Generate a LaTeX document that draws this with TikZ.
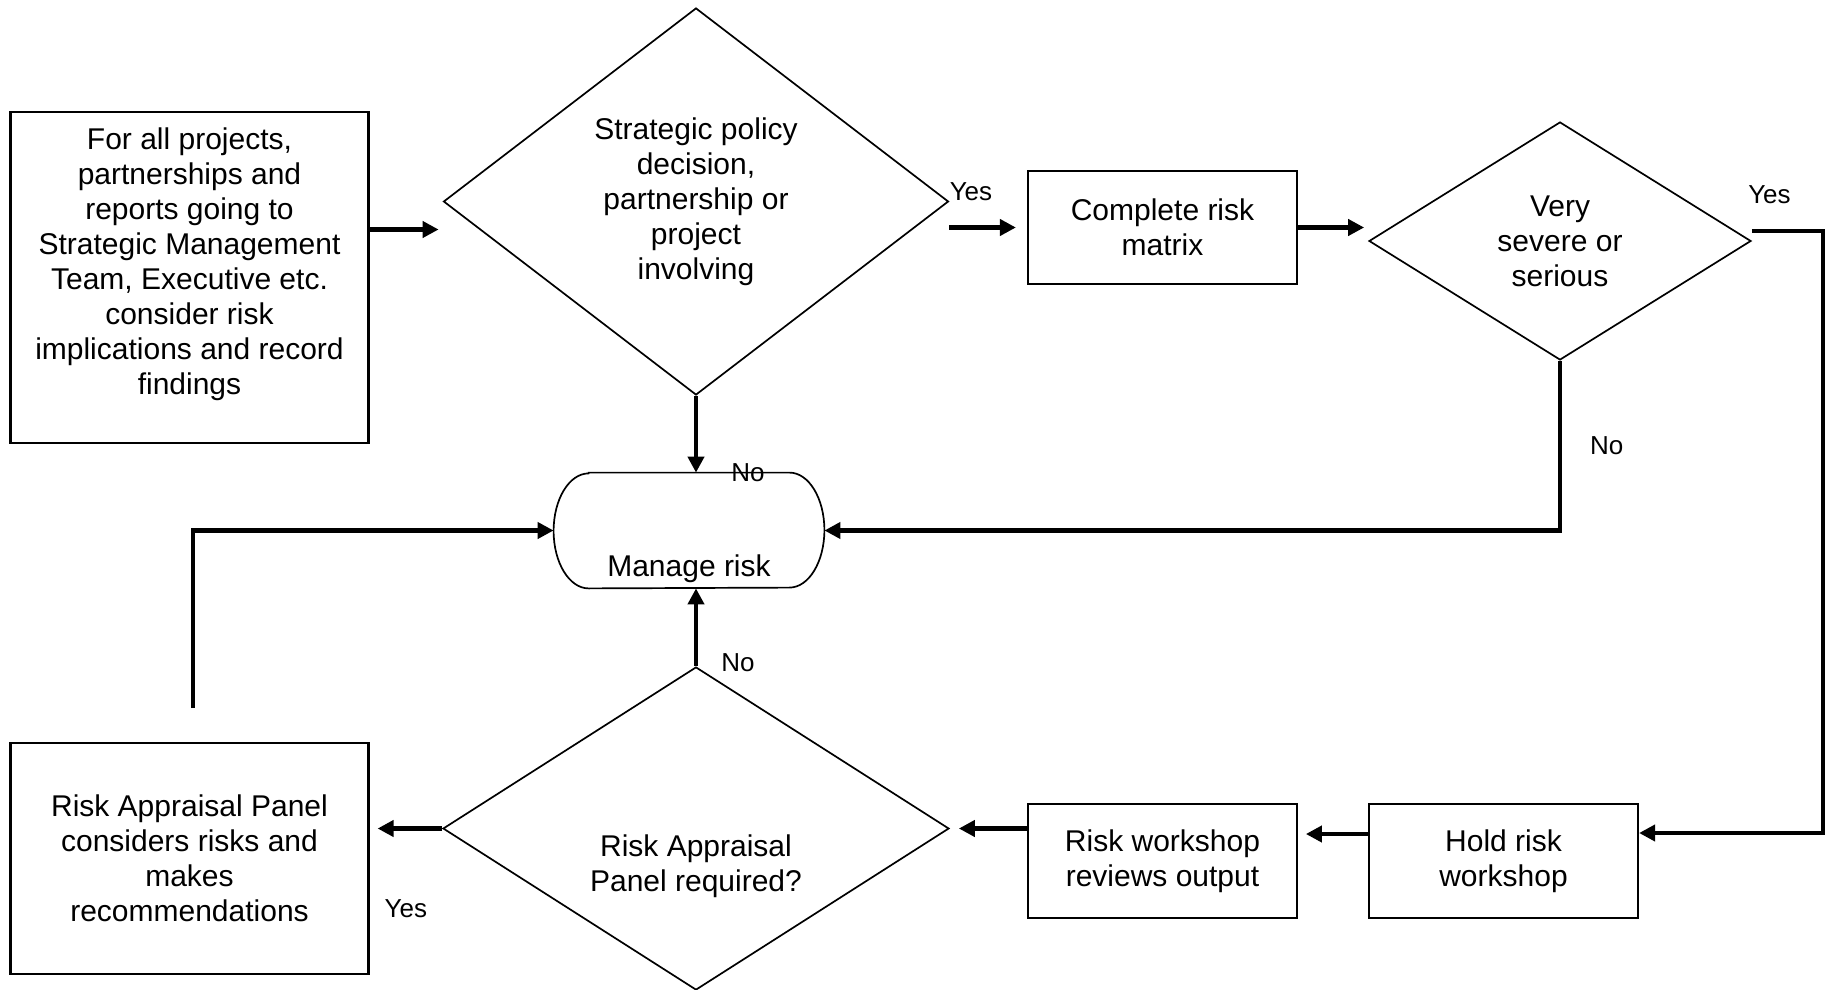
\documentclass[tikz,border=0pt]{standalone}
\usepackage{fontspec}
\setmainfont{Liberation Sans}
\usetikzlibrary{shapes.geometric, positioning,
arrows.meta}

\begin{document}
\begin{tikzpicture}[x=0.5pt, y=-0.5pt,
  every node/.style={font=\fontsize{15}{17.5}\selectfont, align=center},
  box/.style={draw, line width=1.1pt, rectangle, inner sep=0pt},
  decision/.style={draw, line width=0.85pt, diamond, inner sep=0pt},
  terminal/.style={rectangle, inner sep=0pt},
  flow/.style={line width=2.2pt, -{Triangle[length=8pt, width=8pt]}},
  lbl/.style={font=\fontsize{13}{15}\selectfont, inner sep=0pt}]
\useasboundingbox (0,0) rectangle (1832,990);
\node[box, minimum width=179pt, minimum height=165.5pt,
    label={[yshift=6.5pt]center:For all projects,\\partnerships and\\reports going to\\Strategic Management\\Team, Executive etc.\\consider risk\\implications and record\\findings}]
    (intro) at (189.5,277.5) {};
\node[decision, minimum width=252.5pt, minimum height=193.5pt] (strat) at (696,201.5)
    {Strategic policy\\decision,\\partnership or\\project\\involving};
\node[box, minimum width=134.5pt, minimum height=56.5pt] (matrix) at (1162.5,227.5)
    {Complete risk\\matrix};
\node[decision, minimum width=191pt, minimum height=119pt] (severe) at (1560,241)
    {Very\\severe or\\serious};
\node[terminal, minimum width=135pt, minimum height=57.5pt,
    label={[yshift=-19.2pt]center:Manage risk}] (manage) at (689,530.5) {};
\draw[line width=0.85pt] ([xshift=17.5pt]manage.north west) -- ([xshift=-17.5pt]manage.north east)
    arc[start angle=90, end angle=-90, x radius=17.5pt, y radius=28.75pt]
    -- ([xshift=17.5pt]manage.south west)
    arc[start angle=270, end angle=90, x radius=17.5pt, y radius=28.75pt] -- cycle;
\node[decision, minimum width=253pt, minimum height=161.5pt,
    label={[yshift=-18.7pt]center:Risk Appraisal\\Panel required?}] (panel) at (696,828.5) {};
\node[box, minimum width=179pt, minimum height=115.5pt] (rap) at (189.5,858.5)
    {Risk Appraisal Panel\\considers risks and\\makes\\recommendations};
\node[box, minimum width=134.5pt, minimum height=57pt] (review) at (1162.5,861)
    {Risk workshop\\reviews output};
\node[box, minimum width=134.5pt, minimum height=57pt] (hold) at (1503.5,861)
    {Hold risk\\workshop};
\coordinate (loose) at (193,708);

\node [lbl, above right=0pt and 0pt of strat.east] {Yes};
\node [lbl, above right=18.5pt and -2pt of severe.east] {Yes};

\draw[flow] ([yshift=24pt]intro.east) -- ++(69,0);
\draw[flow, shorten >=5.5pt] (strat.east |- matrix.west) -- (matrix.west);
\draw[flow, shorten >=2pt] (matrix.east) -- (matrix.east -| severe.west);
\draw[flow] ([yshift=5pt]severe.east) -- ++(71,0) |- ([yshift=14pt]hold.east);
\draw[flow] (severe.south) |- (manage.east)
    node[lbl, pos=0.25, right=14pt] {No};
\draw[flow] (strat.south) -- (strat.south |- manage.north)
    node[lbl, pos=1, xshift=26pt] {No};
\draw[flow] (panel.north) -- (panel.north |- manage.south)
    node[lbl, pos=0, xshift=21pt, yshift=1.5pt] {No};
\draw[flow, shorten >=2.5pt] ([yshift=13.5pt]hold.west) -- ++(-67,0);
\draw[flow, shorten >=4.5pt] (review.west |- panel.east) -- (panel.east);
\draw[flow, shorten >=4pt] (panel.west) -- (panel.west -| rap.east)
    node[lbl, midway, yshift=-40pt] {Yes};
\draw[flow] (loose) |- (manage.west);
\end{tikzpicture}
\end{document}
